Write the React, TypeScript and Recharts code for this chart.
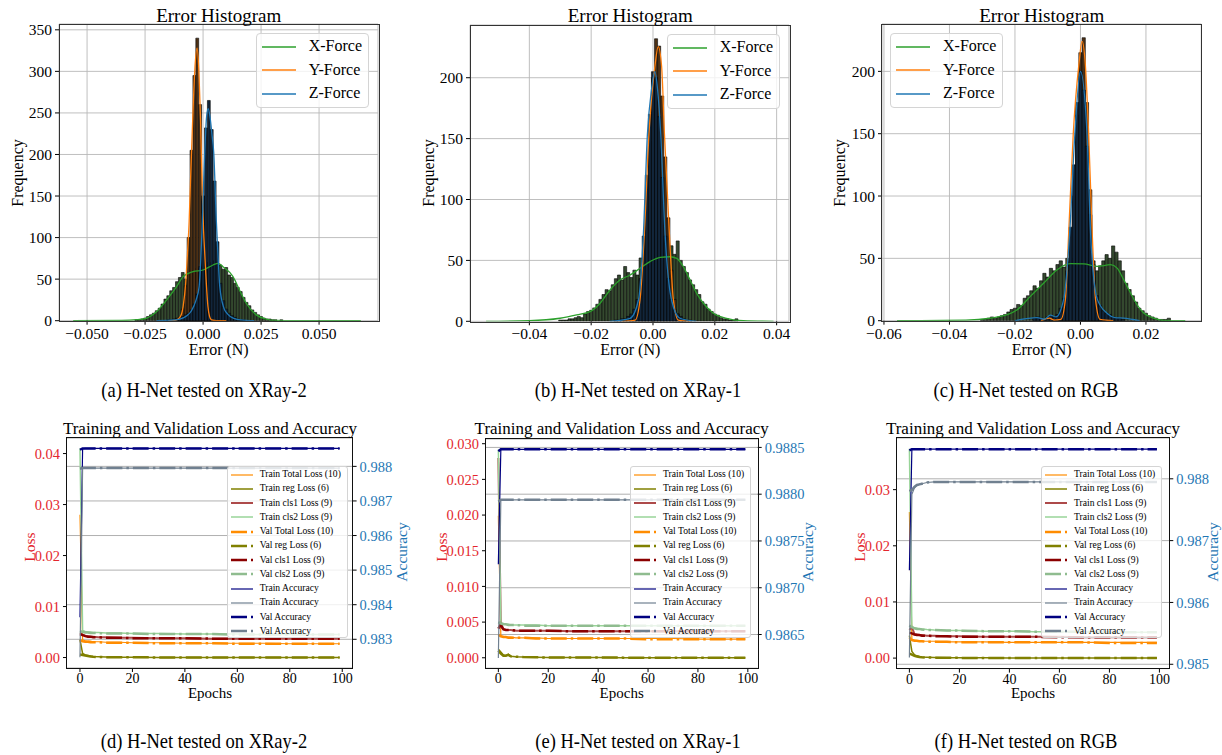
import React from 'react';
import { ComposedChart, LineChart, Bar, Line, XAxis, YAxis, CartesianGrid } from 'recharts';

const FONT = '"Liberation Serif", "Times New Roman", Times, serif';

// ---------- histogram data (bin counts) ----------
const binStartA = -0.03;
const binWidthA = 0.00125;
const xCountsA = [0, 1, 1, 2, 3, 5, 7, 9, 12, 15, 20, 26, 30, 36, 40, 47, 52, 58, 50, 55, 60, 58, 63, 60, 62, 65, 70, 66, 72, 68, 67, 62, 64, 55, 52, 45, 40, 35, 28, 22, 18, 13, 10, 7, 5, 3, 2, 2, 1, 1, 0, 1, 0];
const yCountsA = [0, 0, 0, 0, 0, 0, 0, 0, 0, 0, 0, 0, 0, 0, 0, 1, 3, 14, 42, 100, 205, 295, 340, 260, 150, 60, 15, 3, 1, 0, 0, 0, 0, 0, 0, 0, 0, 0, 0, 0, 0, 0, 0, 0, 0, 0, 0, 0, 0, 0, 0, 0, 0];
const zCountsA = [0, 0, 0, 0, 0, 0, 0, 0, 0, 0, 0, 0, 1, 1, 2, 3, 4, 5, 7, 9, 13, 20, 32, 65, 150, 232, 265, 230, 168, 95, 45, 24, 14, 9, 6, 4, 2, 1, 1, 0, 0, 0, 0, 0, 0, 0, 0, 0, 0, 0, 0, 0, 0];

const binStartB = -0.03;
const binWidthB = 0.001;
const xCountsB = [1, 1, 1, 2, 2, 3, 4, 3, 6, 8, 9, 11, 14, 18, 22, 26, 25, 30, 35, 38, 34, 45, 40, 36, 42, 38, 52, 45, 48, 50, 52, 50, 55, 48, 52, 58, 62, 55, 66, 50, 45, 40, 34, 30, 26, 22, 16, 14, 10, 8, 6, 5, 3, 2, 2, 1, 1, 2, 0, 0, 0];
const yCountsB = [0, 0, 0, 0, 0, 0, 0, 0, 0, 0, 0, 0, 0, 0, 0, 0, 0, 0, 0, 0, 0, 0, 0, 1, 3, 8, 20, 50, 92, 148, 200, 232, 226, 185, 135, 85, 42, 18, 6, 2, 1, 0, 0, 0, 0, 0, 0, 0, 0, 0, 0, 0, 0, 0, 0, 0, 0, 0, 0, 0, 0];
const zCountsB = [0, 0, 0, 0, 0, 0, 0, 0, 0, 0, 0, 0, 0, 0, 0, 0, 0, 0, 1, 1, 2, 2, 4, 6, 10, 18, 35, 70, 120, 170, 205, 200, 168, 118, 70, 35, 18, 10, 6, 4, 2, 1, 1, 0, 0, 0, 0, 0, 0, 0, 0, 0, 0, 0, 0, 0, 0, 0, 0, 0, 0];

const binStartC = -0.03;
const binWidthC = 0.001;
const xCountsC = [1, 1, 2, 3, 2, 3, 4, 5, 7, 9, 10, 13, 12, 18, 20, 24, 28, 26, 32, 38, 35, 42, 40, 45, 48, 43, 50, 47, 50, 46, 48, 45, 42, 38, 35, 40, 44, 48, 53, 50, 60, 55, 48, 40, 30, 25, 20, 15, 10, 8, 6, 4, 3, 2, 1, 1, 1, 2, 0, 0, 0];
const yCountsC = [0, 0, 0, 0, 0, 0, 0, 0, 0, 0, 0, 0, 0, 0, 0, 0, 0, 0, 0, 0, 0, 0, 0, 0, 1, 5, 18, 48, 100, 165, 215, 227, 175, 105, 48, 16, 4, 1, 0, 0, 0, 0, 0, 0, 0, 0, 0, 0, 0, 0, 0, 0, 0, 0, 0, 0, 0, 0, 0, 0, 0];
const zCountsC = [0, 0, 0, 0, 0, 0, 0, 0, 0, 0, 0, 0, 0, 0, 0, 0, 2, 3, 2, 1, 3, 4, 3, 5, 10, 18, 40, 75, 125, 175, 200, 185, 140, 85, 45, 20, 12, 8, 6, 5, 3, 2, 2, 1, 0, 0, 0, 0, 0, 0, 0, 0, 0, 0, 0, 0, 0, 0, 0, 0, 0];

// KDE curves (x position, density scaled to counts)
const kdeXA_x = [-0.056, -0.035, -0.0285, -0.0243, -0.02, -0.0157, -0.0114, -0.0086, -0.0043, 0, 0.0043, 0.0064, 0.0086, 0.0129, 0.0157, 0.0186, 0.0229, 0.0272, 0.0315, 0.04, 0.068];
const kdeXA_y = [0, 0.3, 1.2, 3.2, 11, 25, 41, 53, 59, 61, 67, 69, 65, 53, 37, 21, 7, 2, 0.4, 0.1, 0];
const kdeYA_x = [-0.015, -0.012, -0.01, -0.0086, -0.0075, -0.0067, -0.006, -0.0054, -0.0045, -0.0035, -0.0026, -0.0018, -0.0011, -0.0004, 0.0002, 0.0007, 0.0014, 0.0021, 0.0028, 0.0036, 0.006, 0.01];
const kdeYA_y = [0, 0.5, 4, 17, 45, 82, 120, 170, 240, 305, 328, 300, 242, 162, 110, 82, 45, 17, 5, 1, 0, 0];
const kdeZA_x = [-0.02, -0.014, -0.01, -0.007, -0.005, -0.003, -0.0017, -0.0003, 0.0007, 0.0015, 0.0022, 0.003, 0.0038, 0.0046, 0.0057, 0.0065, 0.0072, 0.009, 0.0106, 0.013, 0.016, 0.022];
const kdeZA_y = [0, 0.5, 2, 6, 12, 25, 41, 121, 202, 245, 255, 245, 225, 202, 121, 75, 41, 15, 8, 3, 1, 0];

const kdeXB_x = [-0.054, -0.04, -0.0301, -0.0247, -0.0204, -0.0171, -0.0139, -0.0107, -0.0074, -0.0042, -0.001, 0.0023, 0.0055, 0.0077, 0.0098, 0.012, 0.0141, 0.0163, 0.0195, 0.0238, 0.0292, 0.039];
const kdeXB_y = [0, 0.5, 2.5, 5.2, 7.9, 14.8, 25.7, 33.9, 38, 43.5, 49, 52.5, 53, 51.7, 44.9, 33.9, 23, 14.8, 6.6, 2.5, 0.5, 0];
const kdeYB_x = [-0.01, -0.0058, -0.0042, -0.0028, -0.0013, 0.0006, 0.0017, 0.0028, 0.0037, 0.0053, 0.0066, 0.0082, 0.012];
const kdeYB_y = [0, 1, 17.5, 72, 154, 209, 225.5, 209, 154, 72, 17.5, 1, 0];
const kdeZB_x = [-0.014, -0.0074, -0.0047, -0.0031, -0.0018, -0.0005, 0.0006, 0.0015, 0.0025, 0.0039, 0.006, 0.0087, 0.014];
const kdeZB_y = [0, 2.5, 17.5, 72, 154, 190, 205, 190, 154, 72, 17.5, 2.5, 0];

const kdeXC_x = [-0.056, -0.035, -0.0275, -0.0224, -0.0193, -0.0153, -0.0112, -0.0071, -0.0031, 0.001, 0.0051, 0.0092, 0.0112, 0.0132, 0.0153, 0.0173, 0.0193, 0.0224, 0.0254, 0.032];
const kdeXC_y = [0, 0.5, 2.1, 4.8, 8.8, 19.5, 30.2, 40.9, 45.7, 45.5, 43.6, 44.9, 42.2, 32.9, 22.2, 12.8, 6.1, 2.1, 0.3, 0];
const kdeYC_x = [-0.012, -0.0095, -0.008, -0.006, -0.0046, -0.0036, -0.0022, -0.0005, 0.0005, 0.0015, 0.0025, 0.0036, 0.0046, 0.006, 0.01];
const kdeYC_y = [0, 2, 0.5, 1, 17, 70, 150, 205, 224, 205, 150, 70, 17, 1, 0];
const kdeZC_x = [-0.02, -0.0132, -0.011, -0.0092, -0.0075, -0.0051, -0.0033, -0.0017, 0, 0.002, 0.0031, 0.0051, 0.0081, 0.0105, 0.0132, 0.018];
const kdeZC_y = [0, 2.5, 1.2, 4.5, 3, 17.5, 70, 150, 200, 150, 70, 17.5, 6, 2.5, 2, 0];

// ---------- training curves ----------
const epochs = [0, 1, 2, 3, 4, 5, 7, 10, 15, 20, 30, 40, 50, 60, 70, 80, 90, 99];

const dTrainTotal = [0.028, 0.0035, 0.0033, 0.0032, 0.0032, 0.0031, 0.0031, 0.003, 0.003, 0.0029, 0.0029, 0.0028, 0.0028, 0.0028, 0.0028, 0.0027, 0.0027, 0.0027];
const dTrainReg = [0.0035, 0.0008, 0.0005, 0.0004, 0.0003, 0.0002, 0.00015, 0.0001, 0.00005, 0.00004, 0.00003, 0.00002, 0.00002, 0.00002, 0.00001, 0.00001, 0.00001, 0.00001];
const dTrainCls1 = [0.0048, 0.0045, 0.0043, 0.0042, 0.0041, 0.0041, 0.004, 0.004, 0.0039, 0.0039, 0.0038, 0.0038, 0.0037, 0.0037, 0.0037, 0.0037, 0.0037, 0.0037];
const dTrainCls2 = [0.041, 0.0053, 0.0051, 0.005, 0.005, 0.0049, 0.0049, 0.0048, 0.0048, 0.0047, 0.0047, 0.0046, 0.0046, 0.0046, 0.0045, 0.0045, 0.0045, 0.0045];
const dValTotal = [0.0034, 0.0032, 0.0031, 0.0031, 0.003, 0.003, 0.003, 0.0029, 0.0029, 0.0029, 0.0028, 0.0028, 0.0028, 0.0027, 0.0027, 0.0027, 0.0027, 0.0027];
const dValReg = [0.0006, 0.0005, 0.0004, 0.0003, 0.0002, 0.00015, 0.0001, 0.00008, 0.00005, 0.00004, 0.00003, 0.00002, 0.00002, 0.00002, 0.00001, 0.00001, 0.00001, 0.00001];
const dValCls1 = [0.0046, 0.0044, 0.0042, 0.0041, 0.0041, 0.004, 0.004, 0.0039, 0.0039, 0.0038, 0.0038, 0.0038, 0.0037, 0.0037, 0.0037, 0.0037, 0.0037, 0.0037];
const dValCls2 = [0.0052, 0.005, 0.0049, 0.0049, 0.0048, 0.0048, 0.0048, 0.0047, 0.0047, 0.0047, 0.0046, 0.0046, 0.0046, 0.0045, 0.0045, 0.0045, 0.0045, 0.0045];
const dTrainAcc = [0.98364, 0.98851, 0.98852, 0.98852, 0.98852, 0.98852, 0.98852, 0.98852, 0.98852, 0.98852, 0.98852, 0.98852, 0.98852, 0.98852, 0.98852, 0.98852, 0.98852, 0.98852];
const dTrainAcc2 = [0.98248, 0.98795, 0.98795, 0.98795, 0.98795, 0.98795, 0.98795, 0.98795, 0.98795, 0.98795, 0.98795, 0.98795, 0.98795, 0.98795, 0.98795, 0.98795, 0.98795, 0.98795];
const dValAcc = [0.98848, 0.98852, 0.98852, 0.98852, 0.98852, 0.98852, 0.98852, 0.98852, 0.98852, 0.98852, 0.98852, 0.98852, 0.98852, 0.98852, 0.98852, 0.98852, 0.98852, 0.98852];
const dValAcc2 = [0.98793, 0.98795, 0.98795, 0.98795, 0.98795, 0.98795, 0.98795, 0.98795, 0.98795, 0.98795, 0.98795, 0.98795, 0.98795, 0.98795, 0.98795, 0.98795, 0.98795, 0.98795];

const eTrainTotal = [0.0199, 0.0031, 0.003, 0.0029, 0.0029, 0.0029, 0.0028, 0.0028, 0.0028, 0.0027, 0.0027, 0.0027, 0.0027, 0.0027, 0.0027, 0.0026, 0.0026, 0.0026];
const eTrainReg = [0.0012, 0.0008, 0.0004, 0.0003, 0.0005, 0.0002, 0.00015, 0.0001, 0.00006, 0.00005, 0.00004, 0.00003, 0.00002, 0.00002, 0.00002, 0.00001, 0.00001, 0.00001];
const eTrainCls1 = [0.028, 0.0043, 0.004, 0.0039, 0.0039, 0.0039, 0.0038, 0.0038, 0.0038, 0.0038, 0.0037, 0.0037, 0.0037, 0.0037, 0.0037, 0.0037, 0.0037, 0.0037];
const eTrainCls2 = [0.0292, 0.0049, 0.0048, 0.0047, 0.0047, 0.0046, 0.0046, 0.0046, 0.0046, 0.0045, 0.0045, 0.0045, 0.0045, 0.0045, 0.0045, 0.0045, 0.0045, 0.0045];
const eValTotal = [0.0032, 0.003, 0.0029, 0.0029, 0.0028, 0.0028, 0.0028, 0.0028, 0.0027, 0.0027, 0.0027, 0.0027, 0.0027, 0.0026, 0.0026, 0.0026, 0.0026, 0.0026];
const eValReg = [0.001, 0.0006, 0.0003, 0.0003, 0.0004, 0.0002, 0.00015, 0.0001, 0.00006, 0.00005, 0.00004, 0.00003, 0.00002, 0.00002, 0.00002, 0.00001, 0.00001, 0.00001];
const eValCls1 = [0.0041, 0.0047, 0.004, 0.0039, 0.0039, 0.0039, 0.0038, 0.0038, 0.0038, 0.0038, 0.0037, 0.0037, 0.0037, 0.0037, 0.0037, 0.0037, 0.0037, 0.0037];
const eValCls2 = [0.005, 0.0048, 0.0047, 0.0047, 0.0046, 0.0046, 0.0046, 0.0045, 0.0045, 0.0045, 0.0045, 0.0045, 0.0045, 0.0045, 0.0045, 0.0045, 0.0045, 0.0045];
const eTrainAcc = [0.98725, 0.98848, 0.98848, 0.98848, 0.98848, 0.98848, 0.98848, 0.98848, 0.98848, 0.98848, 0.98848, 0.98848, 0.98848, 0.98848, 0.98848, 0.98848, 0.98848, 0.98848];
const eTrainAcc2 = [0.98625, 0.98794, 0.98794, 0.98794, 0.98794, 0.98794, 0.98794, 0.98794, 0.98794, 0.98794, 0.98794, 0.98794, 0.98794, 0.98794, 0.98794, 0.98794, 0.98794, 0.98794];
const eValAcc = [0.98846, 0.98848, 0.98848, 0.98848, 0.98848, 0.98848, 0.98848, 0.98848, 0.98848, 0.98848, 0.98848, 0.98848, 0.98848, 0.98848, 0.98848, 0.98848, 0.98848, 0.98848];
const eValAcc2 = [0.98792, 0.98794, 0.98794, 0.98794, 0.98794, 0.98794, 0.98794, 0.98794, 0.98794, 0.98794, 0.98794, 0.98794, 0.98794, 0.98794, 0.98794, 0.98794, 0.98794, 0.98794];

const fTrainTotal = [0.026, 0.0034, 0.0032, 0.0031, 0.0031, 0.003, 0.003, 0.003, 0.0029, 0.0029, 0.0029, 0.0028, 0.0028, 0.0028, 0.0028, 0.0028, 0.0028, 0.0028];
const fTrainReg = [0.004, 0.0012, 0.0006, 0.0004, 0.0003, 0.0002, 0.00015, 0.0001, 0.00006, 0.00005, 0.00004, 0.00003, 0.00002, 0.00002, 0.00002, 0.00001, 0.00001, 0.00001];
const fTrainCls1 = [0.005, 0.0055, 0.0043, 0.0042, 0.0041, 0.0041, 0.004, 0.004, 0.0039, 0.0039, 0.0038, 0.0038, 0.0038, 0.0038, 0.0037, 0.0037, 0.0037, 0.0037];
const fTrainCls2 = [0.0373, 0.0056, 0.0054, 0.0053, 0.0052, 0.0052, 0.0051, 0.005, 0.0049, 0.0049, 0.0048, 0.0048, 0.0047, 0.0047, 0.0047, 0.0046, 0.0046, 0.0046];
const fValTotal = [0.0036, 0.0032, 0.0031, 0.0031, 0.003, 0.003, 0.0029, 0.0029, 0.0029, 0.0028, 0.0028, 0.0028, 0.0028, 0.0028, 0.0028, 0.0027, 0.0027, 0.0027];
const fValReg = [0.0008, 0.0006, 0.0004, 0.0003, 0.0002, 0.00015, 0.0001, 0.00008, 0.00005, 0.00004, 0.00003, 0.00002, 0.00002, 0.00002, 0.00001, 0.00001, 0.00001, 0.00001];
const fValCls1 = [0.0045, 0.0044, 0.0042, 0.0041, 0.0041, 0.004, 0.004, 0.0039, 0.0039, 0.0038, 0.0038, 0.0038, 0.0038, 0.0037, 0.0037, 0.0037, 0.0037, 0.0037];
const fValCls2 = [0.0058, 0.0055, 0.0053, 0.0052, 0.0052, 0.0051, 0.005, 0.005, 0.0049, 0.0049, 0.0048, 0.0048, 0.0047, 0.0047, 0.0047, 0.0046, 0.0046, 0.0046];
const fTrainAcc = [0.98652, 0.98848, 0.98848, 0.98848, 0.98848, 0.98848, 0.98848, 0.98848, 0.98848, 0.98848, 0.98848, 0.98848, 0.98848, 0.98848, 0.98848, 0.98848, 0.98848, 0.98848];
const fTrainAcc2 = [0.98511, 0.98775, 0.98785, 0.98789, 0.98791, 0.98792, 0.98794, 0.98795, 0.98795, 0.98795, 0.98795, 0.98795, 0.98795, 0.98795, 0.98795, 0.98795, 0.98795, 0.98795];
const fValAcc = [0.98846, 0.98848, 0.98848, 0.98848, 0.98848, 0.98848, 0.98848, 0.98848, 0.98848, 0.98848, 0.98848, 0.98848, 0.98848, 0.98848, 0.98848, 0.98848, 0.98848, 0.98848];
const fValAcc2 = [0.9878, 0.98782, 0.98787, 0.9879, 0.98791, 0.98792, 0.98794, 0.98795, 0.98795, 0.98795, 0.98795, 0.98795, 0.98795, 0.98795, 0.98795, 0.98795, 0.98795, 0.98795];

// ---------- helpers ----------
const binRows = (start: number, width: number, xs: number[], ys: number[], zs: number[]) =>
  xs.map((v, i) => ({ x: +(start + i * width).toFixed(6), X: v, Y: ys[i], Z: zs[i] }));

const kdeRows = (xs: number[], ys: number[]) => xs.map((x, i) => ({ x, y: ys[i] }));

const trainRows = (s: number[][]) =>
  epochs.map((ep, i) => ({
    epoch: ep,
    trainTotal: s[0][i], trainReg: s[1][i], trainCls1: s[2][i], trainCls2: s[3][i],
    valTotal: s[4][i], valReg: s[5][i], valCls1: s[6][i], valCls2: s[7][i],
    trainAcc: s[8][i], trainAcc2: s[9][i], valAcc: s[10][i], valAcc2: s[11][i],
  }));

const fmt = (d: number) => (v: number) => (v < 0 ? '\u2212' : '') + Math.abs(v).toFixed(d);

const Txt = ({ x, y, s, size, color = '#000', rot = 0, sx = 1 }: any) => (
  <div style={{
    position: 'absolute', left: x, top: y, transform: `translate(-50%, -50%) rotate(${rot}deg) scaleX(${sx})`,
    fontSize: size, color, whiteSpace: 'nowrap', fontFamily: FONT, lineHeight: 1,
  }}>{s}</div>
);

const Frame = ({ r, w, color }: any) => (
  <div style={{
    position: 'absolute', left: r[0] - w / 2, top: r[1] - w / 2, width: r[2], height: r[3],
    border: `${w}px solid ${color}`, boxSizing: 'content-box', pointerEvents: 'none',
  }} />
);

const KDE_COLORS = { X: '#2ca02c', Y: '#ff7f0e', Z: '#1f77b4' };
const BAR_FILL = { X: '#34492f', Y: '#4d3116', Z: '#12263b' };

function HistPanel({ p }: any) {
  const [px, py, pw, ph] = p.rect;
  const barPx = (p.binWidth * pw) / (p.xDomain[1] - p.xDomain[0]) - 0.05;
  const tick = { fontSize: 15.5, fill: '#000', fontFamily: FONT };
  return (
    <>
      <div style={{ position: 'absolute', left: px - 50, top: py - 10, fontFamily: FONT }}>
        <ComposedChart width={pw + 60} height={ph + 40} data={p.rows} margin={{ top: 10, right: 10, bottom: 0, left: 0 }}>
          <XAxis xAxisId="bX" dataKey="x" type="number" domain={p.xDomain} allowDataOverflow hide orientation="top" height={0} />
          <XAxis xAxisId="bY" dataKey="x" type="number" domain={p.xDomain} allowDataOverflow hide orientation="top" height={0} />
          <XAxis xAxisId="bZ" dataKey="x" type="number" domain={p.xDomain} allowDataOverflow hide orientation="top" height={0} />
          <XAxis xAxisId="main" dataKey="x" type="number" domain={p.xDomain} allowDataOverflow ticks={p.xTicks}
            interval={0} tickFormatter={fmt(p.xDigits)} axisLine={false} tickSize={4} tickMargin={3}
            tickLine={{ stroke: '#000' }} tick={tick} height={30} />
          <YAxis type="number" domain={p.yDomain} allowDataOverflow ticks={p.yTicks} interval={0} width={50}
            axisLine={false} tickSize={4} tickMargin={3} tickLine={{ stroke: '#000' }} tick={tick} />
          {(['X', 'Y', 'Z'] as const).map((k) => (
            <Bar key={k} xAxisId={'b' + k} dataKey={k} barSize={barPx} fill={BAR_FILL[k]} stroke="#050505"
              strokeWidth={0.6} isAnimationActive={false} />
          ))}
          <CartesianGrid xAxisId="main" stroke="#b8b8b8" strokeWidth={0.9} />
          {(['X', 'Y', 'Z'] as const).map((k) => (
            <Line key={'k' + k} xAxisId="main" data={p.kde[k]} dataKey="y" type="monotone" stroke={KDE_COLORS[k]}
              strokeWidth={1.3} dot={false} isAnimationActive={false} />
          ))}
        </ComposedChart>
      </div>
      <Frame r={p.rect} w={1} color="#333" />
      <Txt x={p.titleX} y={15} s="Error Histogram" size={19} />
      <Txt x={p.titleX} y={350} s="Error (N)" size={16} />
      <Txt x={p.ylabX} y={172.5} s="Frequency" size={16} rot={-90} />
      <div style={{
        position: 'absolute', left: p.legend[0], top: p.legend[1], width: 113, height: 75,
        background: 'rgba(255,255,255,0.8)', border: '1px solid #d4d4d4', borderRadius: 4, boxSizing: 'border-box',
      }}>
        {(['X', 'Y', 'Z'] as const).map((k, i) => (
          <div key={k} style={{ position: 'absolute', left: 0, top: 12.5 + i * 23.5, width: 113 }}>
            <svg width={36} height={4} style={{ position: 'absolute', left: 5, top: -2 }}>
              <line x1={0} y1={2} x2={34} y2={2} stroke={KDE_COLORS[k]} strokeWidth={1.5} />
            </svg>
            <div style={{ position: 'absolute', left: 52, top: -8.5, fontSize: 16, fontFamily: FONT, lineHeight: 1, whiteSpace: 'nowrap' }}>{k}-Force</div>
          </div>
        ))}
      </div>
    </>
  );
}

const SERIES = [
  { key: 'trainTotal', label: 'Train Total Loss (10)', color: '#ff8c00', w: 1.2, dash: false, axis: 'left' },
  { key: 'trainReg', label: 'Train reg Loss (6)', color: '#808000', w: 1.5, dash: false, axis: 'left' },
  { key: 'trainCls1', label: 'Train cls1 Loss (9)', color: '#ad4a4a', w: 2, dash: false, axis: 'left' },
  { key: 'trainCls2', label: 'Train cls2 Loss (9)', color: '#98d498', w: 1.5, dash: false, axis: 'left' },
  { key: 'valTotal', label: 'Val Total Loss (10)', color: '#ff8c00', w: 2.5, dash: true, axis: 'left' },
  { key: 'valReg', label: 'Val reg Loss (6)', color: '#808000', w: 2.5, dash: true, axis: 'left' },
  { key: 'valCls1', label: 'Val cls1 Loss (9)', color: '#8b0000', w: 2.5, dash: true, axis: 'left' },
  { key: 'valCls2', label: 'Val cls2 Loss (9)', color: '#8fbc8f', w: 2.5, dash: true, axis: 'left' },
  { key: 'trainAcc', label: 'Train Accuracy', color: '#000080', w: 1.2, dash: false, axis: 'right' },
  { key: 'trainAcc2', label: 'Train Accuracy', color: '#708090', w: 1.2, dash: false, axis: 'right' },
  { key: 'valAcc', label: 'Val Accuracy', color: '#000080', w: 2.5, dash: true, axis: 'right' },
  { key: 'valAcc2', label: 'Val Accuracy', color: '#708090', w: 2.5, dash: true, axis: 'right' },
];

const dashFor = (w: number) => `${6.4 * w} ${1.6 * w} ${w} ${1.6 * w}`;

function TrainPanel({ p }: any) {
  const [px, py, pw, ph] = p.rect;
  const tickL = { fontSize: 14.5, fill: '#e3262d', fontFamily: FONT };
  const tickR = { fontSize: 14.5, fill: '#1f77b4', fontFamily: FONT };
  const tickX = { fontSize: 14, fill: '#000', fontFamily: FONT };
  return (
    <>
      <div style={{ position: 'absolute', left: px - 50, top: py - 10, fontFamily: FONT }}>
        <LineChart width={pw + 110} height={ph + 40} data={p.rows} margin={{ top: 10, right: 0, bottom: 0, left: 0 }}>
          <XAxis dataKey="epoch" type="number" domain={[-4.95, 103.95]} allowDataOverflow ticks={[0, 20, 40, 60, 80, 100]}
            interval={0} axisLine={false} tickSize={4} tickMargin={1} tickLine={{ stroke: '#000' }} tick={tickX} height={30} />
          <YAxis yAxisId="left" type="number" domain={p.lossDomain} allowDataOverflow ticks={p.lossTicks} interval={0}
            tickFormatter={fmt(p.lossDigits)} width={50} axisLine={false} tickSize={4} tickMargin={3}
            tickLine={{ stroke: '#000' }} tick={tickL} />
          <YAxis yAxisId="right" orientation="right" type="number" domain={p.accDomain} allowDataOverflow ticks={p.accTicks}
            interval={0} tickFormatter={fmt(p.accDigits)} width={60} axisLine={false} tickSize={4} tickMargin={3}
            tickLine={{ stroke: '#000' }} tick={tickR} />
          <CartesianGrid vertical={false} yAxisId="right" stroke="#b0b0b0" strokeWidth={1} />
          {SERIES.map((s) => (
            <Line key={s.key} yAxisId={s.axis} dataKey={s.key} stroke={s.color} strokeWidth={s.w}
              strokeDasharray={s.dash ? dashFor(s.w) : undefined} dot={false} isAnimationActive={false} />
          ))}
        </LineChart>
      </div>
      <Frame r={p.rect} w={1.8} color="#111" />
      <Txt x={p.titleX} y={428} s="Training and Validation Loss and Accuracy" size={17} />
      <Txt x={p.titleX} y={693} s="Epochs" size={15} />
      <Txt x={p.lossX} y={547} s="Loss" size={15.5} color="#e3262d" rot={-90} />
      <Txt x={p.accX} y={552} s="Accuracy" size={15.5} color="#1f77b4" rot={-90} />
      <div style={{
        position: 'absolute', left: p.legendX, top: 466, width: 121, height: 172,
        background: 'rgba(255,255,255,0.8)', border: '1px solid #d4d4d4', borderRadius: 3, boxSizing: 'border-box',
      }}>
        {SERIES.map((s, i) => (
          <div key={i} style={{ position: 'absolute', left: 0, top: 7.5 + i * 14.27, width: 121 }}>
            <svg width={24} height={6} style={{ position: 'absolute', left: 3, top: -3 }}>
              <line x1={0} y1={3} x2={22} y2={3} stroke={s.color} strokeWidth={s.w}
                strokeDasharray={s.dash ? dashFor(s.w) : undefined} />
            </svg>
            <div style={{ position: 'absolute', left: 32, top: -5.5, fontSize: 9.6, fontFamily: FONT, lineHeight: 1, whiteSpace: 'nowrap' }}>{s.label}</div>
          </div>
        ))}
      </div>
    </>
  );
}

const histA = {
  rect: [59.3, 24.3, 319, 296.7], xDomain: [-0.0621, 0.0754], yDomain: [0, 357],
  xTicks: [-0.05, -0.025, 0, 0.025, 0.05], xDigits: 3, yTicks: [0, 50, 100, 150, 200, 250, 300, 350],
  binWidth: binWidthA, rows: binRows(binStartA, binWidthA, xCountsA, yCountsA, zCountsA),
  kde: { X: kdeRows(kdeXA_x, kdeXA_y), Y: kdeRows(kdeYA_x, kdeYA_y), Z: kdeRows(kdeZA_x, kdeZA_y) },
  titleX: 218.7, ylabX: 18, legend: [255.7, 33.3],
};
const histB = {
  rect: [470, 25, 319, 296.3], xDomain: [-0.0592, 0.044], yDomain: [0, 243.3],
  xTicks: [-0.04, -0.02, 0, 0.02, 0.04], xDigits: 2, yTicks: [0, 50, 100, 150, 200],
  binWidth: binWidthB, rows: binRows(binStartB, binWidthB, xCountsB, yCountsB, zCountsB),
  kde: { X: kdeRows(kdeXB_x, kdeXB_y), Y: kdeRows(kdeYB_x, kdeYB_y), Z: kdeRows(kdeZB_x, kdeZB_y) },
  titleX: 630.3, ylabX: 429.3, legend: [666.7, 34],
};
const histC = {
  rect: [881.7, 24.3, 319.3, 296.7], xDomain: [-0.0606, 0.0369], yDomain: [0, 238],
  xTicks: [-0.06, -0.04, -0.02, 0, 0.02], xDigits: 2, yTicks: [0, 50, 100, 150, 200],
  binWidth: binWidthC, rows: binRows(binStartC, binWidthC, xCountsC, yCountsC, zCountsC),
  kde: { X: kdeRows(kdeXC_x, kdeXC_y), Y: kdeRows(kdeYC_x, kdeYC_y), Z: kdeRows(kdeZC_x, kdeZC_y) },
  titleX: 1041.7, ylabX: 840, legend: [890, 33.3],
};

const trainD = {
  rect: [66.7, 437.7, 285.6, 230], lossDomain: [-0.00205, 0.04305], lossTicks: [0, 0.01, 0.02, 0.03, 0.04], lossDigits: 2,
  accDomain: [0.98217, 0.98882], accTicks: [0.983, 0.984, 0.985, 0.986, 0.987, 0.988], accDigits: 3,
  rows: trainRows([dTrainTotal, dTrainReg, dTrainCls1, dTrainCls2, dValTotal, dValReg, dValCls1, dValCls2, dTrainAcc, dTrainAcc2, dValAcc, dValAcc2]),
  titleX: 210, lossX: 30, accX: 402, legendX: 226.7,
};
const trainE = {
  rect: [486, 438.5, 271.7, 229.2], lossDomain: [-0.00146, 0.03066], lossTicks: [0, 0.005, 0.01, 0.015, 0.02, 0.025, 0.03], lossDigits: 3,
  accDomain: [0.98614, 0.98859], accTicks: [0.9865, 0.987, 0.9875, 0.988, 0.9885], accDigits: 4,
  rows: trainRows([eTrainTotal, eTrainReg, eTrainCls1, eTrainCls2, eValTotal, eValReg, eValCls1, eValCls2, eTrainAcc, eTrainAcc2, eValAcc, eValAcc2]),
  titleX: 621.7, lossX: 441.7, accX: 808.3, legendX: 630,
};
const trainF = {
  rect: [896.7, 437.7, 272.3, 230.6], lossDomain: [-0.00187, 0.0392], lossTicks: [0, 0.01, 0.02, 0.03], lossDigits: 2,
  accDomain: [0.98493, 0.98866], accTicks: [0.985, 0.986, 0.987, 0.988], accDigits: 3,
  rows: trainRows([fTrainTotal, fTrainReg, fTrainCls1, fTrainCls2, fValTotal, fValReg, fValCls1, fValCls2, fTrainAcc, fTrainAcc2, fValAcc, fValAcc2]),
  titleX: 1033, lossX: 860, accX: 1213.3, legendX: 1041,
};

const captionsTop = ['(a) H-Net tested on XRay-2', '(b) H-Net tested on XRay-1', '(c) H-Net tested on RGB'];
const captionsBottom = ['(d) H-Net tested on XRay-2', '(e) H-Net tested on XRay-1', '(f) H-Net tested on RGB'];
const captionX = [204, 638, 1026];

export default function App() {
  return (
    <div style={{ position: 'absolute', left: 0, top: 0, width: 1222, height: 755, background: '#fff', overflow: 'hidden', fontFamily: FONT }}>
      <HistPanel p={histA} />
      <HistPanel p={histB} />
      <HistPanel p={histC} />
      <TrainPanel p={trainD} />
      <TrainPanel p={trainE} />
      <TrainPanel p={trainF} />
      {captionsTop.map((c, i) => <Txt key={c} x={captionX[i]} y={391} s={c} size={21.5} sx={0.86} />)}
      {captionsBottom.map((c, i) => <Txt key={c} x={captionX[i]} y={742} s={c} size={21.5} sx={0.86} />)}
    </div>
  );
}
